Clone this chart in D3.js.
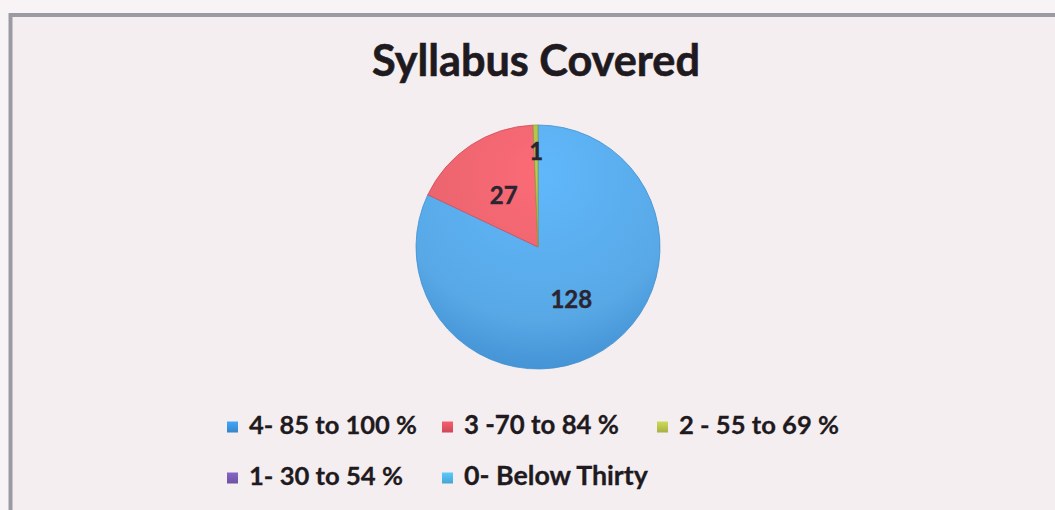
<!DOCTYPE html>
<html>
<head>
<meta charset="utf-8">
<script src="https://cdn.jsdelivr.net/npm/d3@7"></script>
<style>
  html, body { margin: 0; padding: 0; background: #f7f3f5; }
  svg { display: block; }
</style>
</head>
<body>
<svg id="chart" width="1055" height="510"></svg>
<script>
const title = "Syllabus Covered";
const categories = ["4- 85 to 100 %", "3 -70 to 84 %", "2 - 55 to 69 %", "1- 30 to 54 %", "0- Below Thirty"];
const values = [128, 27, 1, 0, 0];
const colors = ["#58a8e6", "#e6626c", "#a9b84e", "#7a5db0", "#55b2e2"];
const darkColors = ["#3f8fd2", "#cf4e58", "#8f9d3c", "#5f4795", "#3a98c8"];
const swatchColors = ["#3a8fd8", "#d9505e", "#b3bd4c", "#7658ae", "#4db0e0"];

const W = 1055, H = 510;
const svg = d3.select("#chart");
const defs = svg.append("defs");

// background + frame
svg.append("rect").attr("x", 0).attr("y", 0).attr("width", W).attr("height", H).attr("fill", "#f8f4f6");
svg.append("rect").attr("x", 10.5).attr("y", 15).attr("width", 1100).attr("height", 600)
  .attr("fill", "#f5eef1").attr("stroke", "#9b9aa3").attr("stroke-width", 4);

// title
const fontFam = "Lato, 'Open Sans', sans-serif";
const t = svg.append("text").attr("x", 536).attr("y", 76)
  .attr("text-anchor", "middle").attr("font-family", fontFam).attr("font-weight", 700)
  .attr("font-size", 40).attr("fill", "#1e1a20")
  .attr("stroke", "#1e1a20").attr("stroke-width", 0.6).text(title);
function fitWidth(sel, target, base) {
  const w = sel.node().getComputedTextLength();
  sel.attr("font-size", base * target / w);
}
fitWidth(t, 328, 40);

// pie
const cx = 538, cy = 247, R = 122;
const g = svg.append("g").attr("transform", `translate(${cx},${cy})`);
const pie = d3.pie().sort(null).value(d => d.v);
const data = categories.map((c, i) => ({ c, v: values[i], i }));
const arcs = pie(data);
const arc = d3.arc().innerRadius(0).outerRadius(R);

colors.forEach((c, i) => {
  const gr = defs.append("radialGradient").attr("id", "grad" + i)
    .attr("gradientUnits", "userSpaceOnUse").attr("cx", 0).attr("cy", -R * 0.6).attr("r", R * 1.7);
  gr.append("stop").attr("offset", "0%").attr("stop-color", d3.color(c).brighter(0.25));
  gr.append("stop").attr("offset", "70%").attr("stop-color", c);
  gr.append("stop").attr("offset", "100%").attr("stop-color", darkColors[i]);
});

g.selectAll("path.slice").data(arcs.filter(a => a.data.v > 0)).join("path")
  .attr("class", "slice")
  .attr("d", arc)
  .attr("fill", d => `url(#grad${d.data.i})`)
  .attr("stroke", d => darkColors[d.data.i])
  .attr("stroke-width", 0.8);

// labels
g.selectAll("text.lbl").data(arcs.filter(a => a.data.v > 0)).join("text")
  .attr("class", "lbl")
  .attr("transform", d => {
    const span = d.endAngle - d.startAngle;
    const r = span < 0.2 ? R * 0.78 : R * 0.51;
    const a = (d.startAngle + d.endAngle) / 2;
    return `translate(${r * Math.sin(a)},${-r * Math.cos(a)})`;
  })
  .attr("text-anchor", "middle").attr("dy", "0.36em")
  .attr("font-family", fontFam).attr("font-weight", 700).attr("font-size", 24)
  .attr("fill", "#2a2530").attr("stroke", "#2a2530").attr("stroke-width", 0.4)
  .text(d => d.data.v);

// legend
const legendPos = [
  { x: 227, y: 427 }, { x: 442, y: 427 }, { x: 657, y: 427 },
  { x: 227, y: 478 }, { x: 442, y: 478 }
];
const legendWidths = [168, 155, 160, 154, 184];
const lg = svg.append("g");
categories.forEach((c, i) => {
  const p = legendPos[i];
  const gr = defs.append("linearGradient").attr("id", "sw" + i).attr("x1", 0).attr("y1", 0).attr("x2", 0).attr("y2", 1);
  gr.append("stop").attr("offset", "0%").attr("stop-color", d3.color(swatchColors[i]).brighter(0.4));
  gr.append("stop").attr("offset", "100%").attr("stop-color", d3.color(swatchColors[i]).darker(0.2));
  lg.append("rect").attr("x", p.x).attr("y", p.y - 5.5).attr("width", 11).attr("height", 11)
    .attr("fill", `url(#sw${i})`);
  const tx = lg.append("text").attr("x", p.x + 22).attr("y", p.y + 7)
    .attr("font-family", fontFam).attr("font-weight", 700).attr("font-size", 22)
    .attr("fill", "#1e1a20").attr("stroke", "#1e1a20").attr("stroke-width", 0.3).text(c);
  fitWidth(tx, legendWidths[i], 22);
});
</script>
</body>
</html>
